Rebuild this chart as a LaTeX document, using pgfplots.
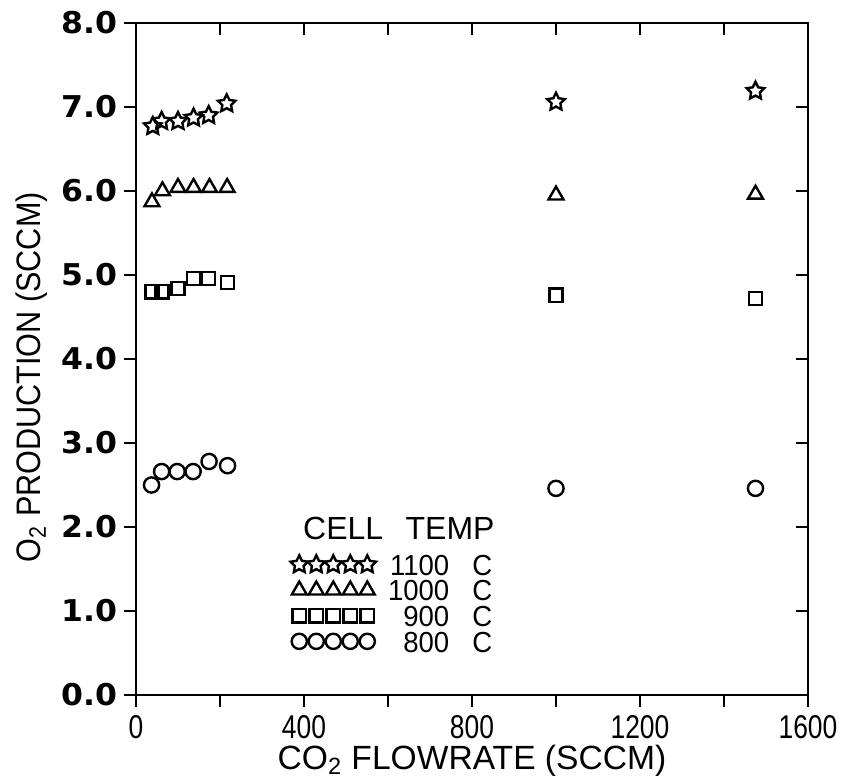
\documentclass[border=0pt]{standalone}
\usepackage{fontspec}
\setmainfont{Liberation Sans}
\newfontfamily\ytf{DejaVu Sans}[FakeStretch=1.05]
\newfontfamily\xtf{Liberation Sans}[FakeStretch=0.8]
\newfontfamily\legf{Liberation Sans}[FakeStretch=0.95]
\newfontfamily\ylf{Liberation Sans}[FakeStretch=0.9]
\usepackage{pgfplots}
\pgfplotsset{compat=1.18}

% outline five-pointed star
\pgfdeclareplotmark{ostar}{%
  \pgfpathmoveto{\pgfpointpolar{90}{\pgfplotmarksize}}%
  \pgfpathlineto{\pgfpointpolar{126}{0.5\pgfplotmarksize}}%
  \pgfpathlineto{\pgfpointpolar{162}{\pgfplotmarksize}}%
  \pgfpathlineto{\pgfpointpolar{198}{0.5\pgfplotmarksize}}%
  \pgfpathlineto{\pgfpointpolar{234}{\pgfplotmarksize}}%
  \pgfpathlineto{\pgfpointpolar{270}{0.5\pgfplotmarksize}}%
  \pgfpathlineto{\pgfpointpolar{306}{\pgfplotmarksize}}%
  \pgfpathlineto{\pgfpointpolar{342}{0.5\pgfplotmarksize}}%
  \pgfpathlineto{\pgfpointpolar{18}{\pgfplotmarksize}}%
  \pgfpathlineto{\pgfpointpolar{54}{0.5\pgfplotmarksize}}%
  \pgfpathclose
  \pgfusepathqstroke
}

\pgfplotsset{
  frame/.style={
    at={(0,0)}, anchor=south west,
    scale only axis, width=336pt, height=336pt,
    xmin=0, xmax=1600, ymin=0, ymax=8,
    axis line style={line width=1pt},
    xtick={0,400,...,1600}, minor xtick={200,600,1000,1400},
    ytick={0,1,...,8},
    major tick length=6pt, minor tick length=6pt,
    every tick/.style={black, line width=1pt},
  },
  five marks/.style={
    legend image code/.code={
      \draw[##1, mark repeat=1, mark phase=1] plot coordinates
        {(0pt,0pt) (8.5pt,0pt) (17pt,0pt) (25.5pt,0pt) (34pt,0pt)};
    }
  },
  pts/.style={only marks, black, mark options={line width=1.2pt, solid}, five marks},
}

\newcommand\entry[1]{\hspace{2pt}\makebox[2.25em][r]{#1}\hspace{0.8em}C}

\begin{document}
\begin{tikzpicture}
\useasboundingbox (-68pt,-41pt) rectangle (358pt,347.5pt);

% top and right ticks point inwards
\begin{axis}[frame,
  xtick pos=right, ytick pos=right, tick align=inside,
  xticklabels={}, yticklabels={},
]
\end{axis}

\begin{axis}[frame,
  xtick pos=left, ytick pos=left, tick align=outside,
  xticklabels={0,400,800,1200,1600},
  yticklabels={0.0,1.0,2.0,3.0,4.0,5.0,6.0,7.0,8.0},
  xticklabel style={font=\xtf\fontsize{16.5}{16.5}\selectfont,
    inner ysep=0pt, yshift=-4pt},
  yticklabel style={font=\ytf\bfseries\fontsize{15}{15}\selectfont},
  xlabel={CO\textsubscript{2} FLOWRATE (SCCM)},
  ylabel={O\textsubscript{2} PRODUCTION (SCCM)},
  xlabel style={font=\fontsize{16.8}{16.8}\selectfont, inner sep=0pt,
    at={(axis description cs:0.5,-0.098)}, anchor=center},
  ylabel style={font=\ylf\fontsize{17}{17}\selectfont, inner sep=0pt,
    at={(axis description cs:-0.155,0.473)}, anchor=center},
  legend style={at={(axis cs:367,1.71)}, anchor=north west,
    draw=none, fill=none, inner sep=0pt, row sep=0pt,
    font=\legf\fontsize{14.5}{14.5}\selectfont,
    nodes={inner ysep=1pt, text height=10.8pt, text depth=0pt}},
  legend cell align=left,
]
\addplot[pts, mark=ostar, mark size=4.6pt] coordinates {
  (40,6.77) (61,6.83) (100,6.83) (137,6.87) (173,6.90) (216,7.04)
  (1000,7.06) (1475,7.19)};
\addlegendentry{\entry{1100}}
\addplot[pts, mark=triangle, mark size=4.3pt] coordinates {
  (38,5.87) (63,6.00) (100,6.04) (137,6.04) (175,6.04) (217,6.04)
  (1000,5.95) (1475,5.96)};
\addlegendentry{\entry{1000}}
\addplot[pts, mark=square, mark size=3.3pt] coordinates {
  (38,4.80) (62,4.80) (100,4.84) (137,4.96) (173,4.96) (218,4.91)
  (1000,4.76) (1475,4.72)};
\addlegendentry{\entry{900}}
\addplot[pts, mark=o, mark size=3.8pt] coordinates {
  (37,2.50) (61,2.66) (98,2.66) (136,2.66) (174,2.78) (218,2.73)
  (1000,2.46) (1475,2.46)};
\addlegendentry{\entry{800}}
\node[font=\fontsize{16}{16}\selectfont] at (axis cs:626,1.98) {CELL\hspace{0.7em}TEMP};
\end{axis}
\end{tikzpicture}
\end{document}
